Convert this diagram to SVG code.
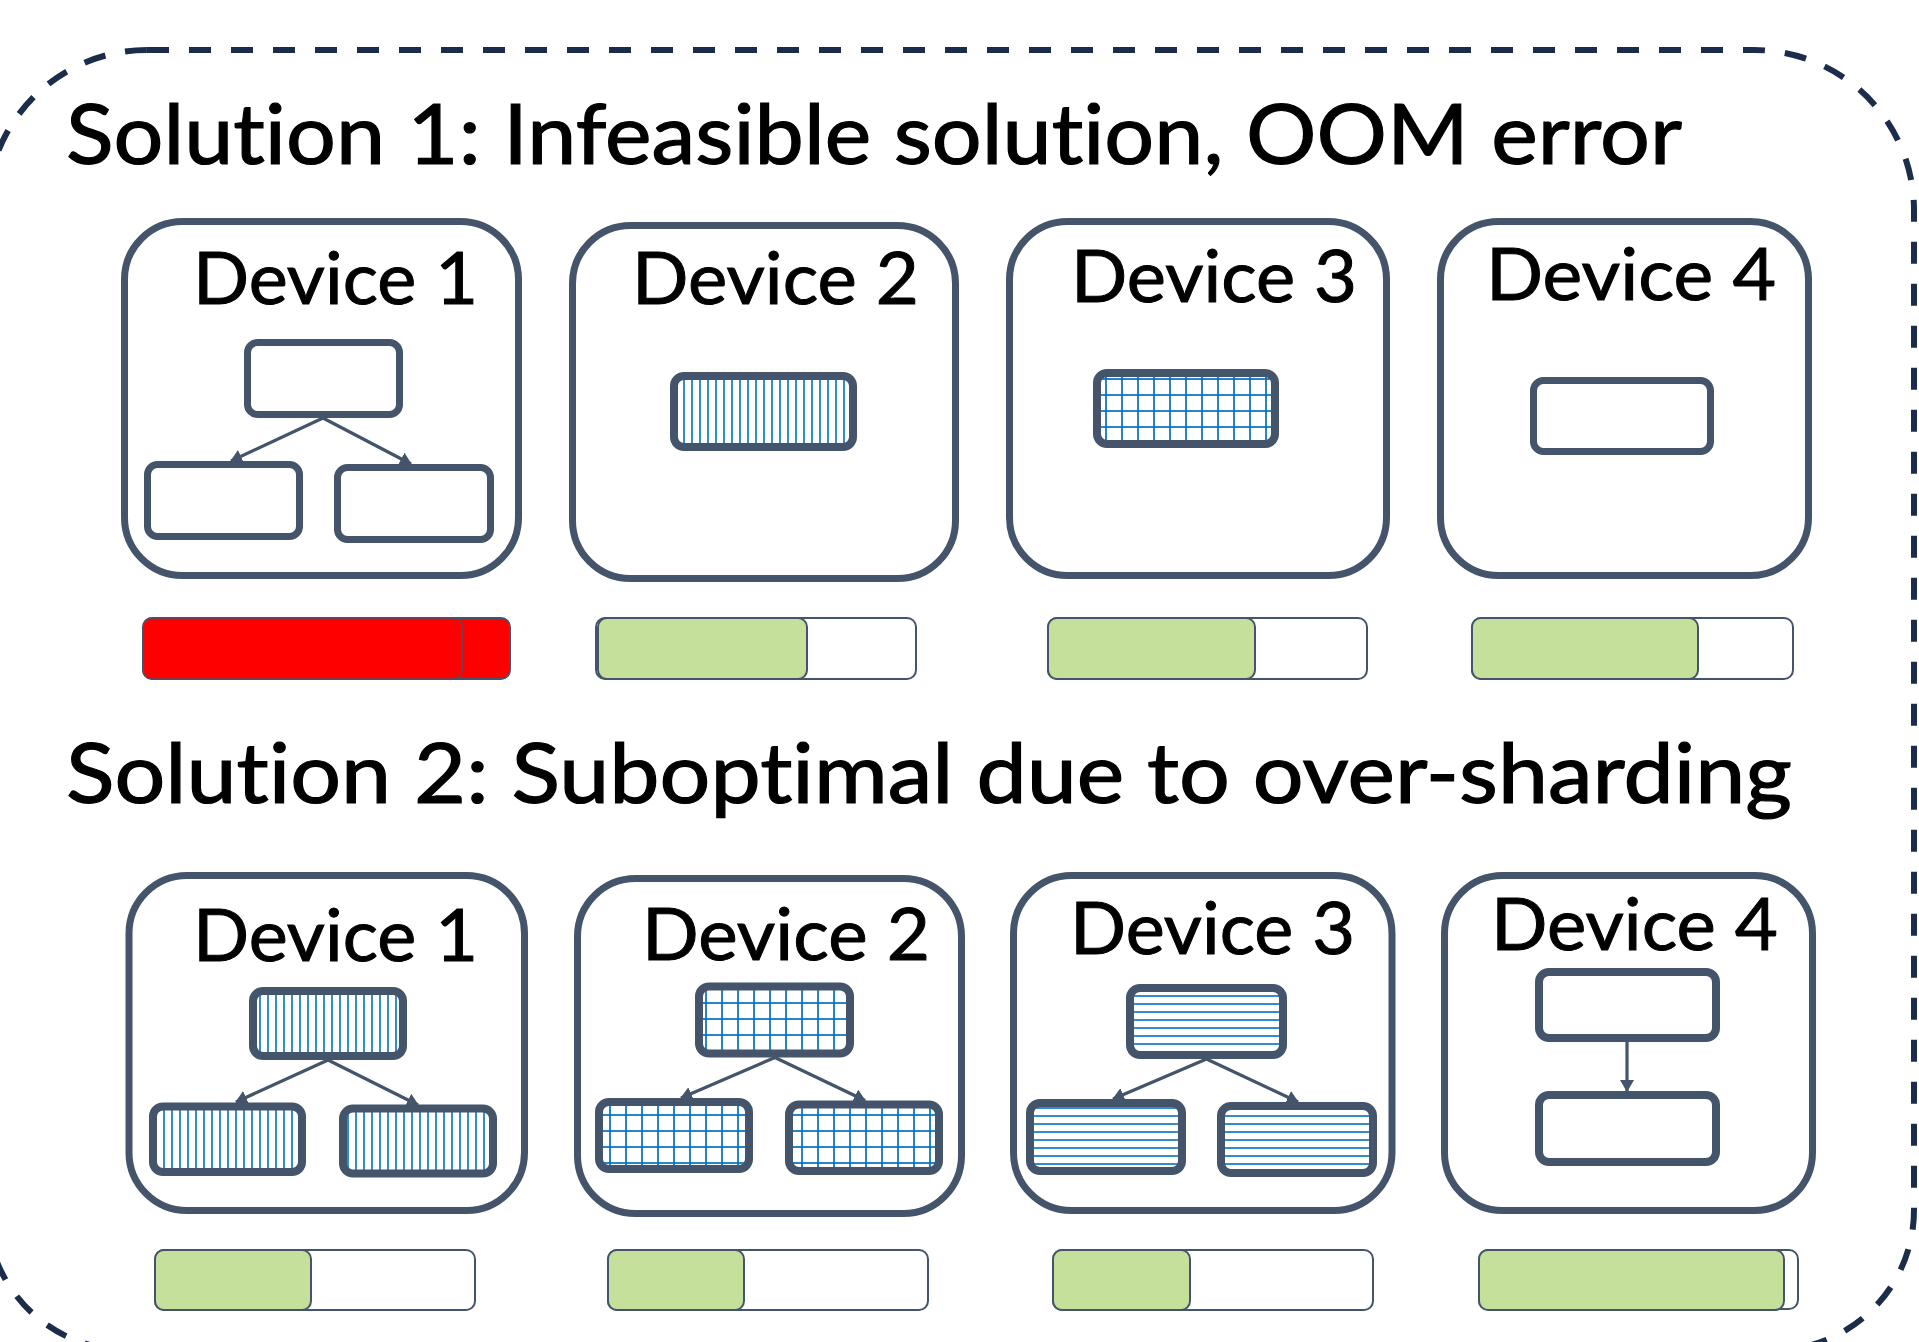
<svg xmlns="http://www.w3.org/2000/svg" width="1919" height="1342" viewBox="0 0 1919 1342">
<style>
.title{font-family:Lato,"Noto Sans","DejaVu Sans",sans-serif;font-size:84px;fill:#000;stroke:#000;stroke-width:1.2;font-variant-ligatures:none;font-feature-settings:"liga" 0,"clig" 0}
.lbl{font-family:Lato,"Noto Sans","DejaVu Sans",sans-serif;font-size:72.5px;fill:#000;stroke:#000;stroke-width:1;font-variant-ligatures:none;font-feature-settings:"liga" 0,"clig" 0}
.dev{fill:#fff;stroke:#44546A;stroke-width:7}
.box{fill:#fff;stroke:#44546A;stroke-width:7}
.box2{stroke:#44546A;stroke-width:8}
.bar{fill:#fff;stroke:#44546A;stroke-width:2}
.used{fill:#C5E09B;stroke:#44546A;stroke-width:2}
.conn{stroke:#44546A;stroke-width:3.2;fill:none;marker-end:url(#ah)}
</style>
<defs>
<marker id="ah" viewBox="0 0 12 14" refX="11" refY="7" markerWidth="12" markerHeight="14" markerUnits="userSpaceOnUse" orient="auto">
<path d="M0,0 L12,7 L0,14 Z" fill="#44546A"/>
</marker>
<pattern id="vstripe" patternUnits="userSpaceOnUse" width="8" height="8">
<rect width="8" height="8" fill="#fff"/>
<line x1="4" y1="0" x2="4" y2="8" stroke="#0070C0" stroke-width="1.6"/>
</pattern>
<pattern id="hstripe" patternUnits="userSpaceOnUse" width="8" height="8">
<rect width="8" height="8" fill="#fff"/>
<line x1="0" y1="4" x2="8" y2="4" stroke="#0070C0" stroke-width="1.6"/>
</pattern>
<pattern id="grid" patternUnits="userSpaceOnUse" width="16" height="16">
<rect width="16" height="16" fill="#fff"/>
<line x1="2" y1="0" x2="2" y2="16" stroke="#0070C0" stroke-width="1.7"/>
<line x1="0" y1="11" x2="16" y2="11" stroke="#0070C0" stroke-width="1.7"/>
</pattern>
</defs>
<rect width="1919" height="1342" fill="#fff"/>
<path id="frame" d="M147,50 H1754 A160,160 0 0 1 1914,210 V1210 A140,140 0 0 1 1774,1350 H127 A140,140 0 0 1 -13,1210 V210 A160,160 0 0 1 147,50 Z" fill="none" stroke="#1C2D4C" stroke-width="6" stroke-dasharray="22 20"/>

<text class="title" x="66" y="164" textLength="1616" lengthAdjust="spacingAndGlyphs">Solution 1: Infeasible solution, OOM error</text>
<text class="title" x="66" y="803" textLength="1726" lengthAdjust="spacingAndGlyphs">Solution 2: Suboptimal due to over-sharding</text>

<!-- Row 1 -->
<g id="s1-device1">
<rect class="dev" x="124.5" y="221.5" width="394" height="354" rx="58"/>
<text class="lbl" x="193" y="304" textLength="285" lengthAdjust="spacingAndGlyphs">Device 1</text>
<rect class="box" x="247.5" y="342.5" width="152" height="72" rx="10"/>
<rect class="box" x="147.5" y="464.5" width="152" height="72" rx="10"/>
<rect class="box" x="337.5" y="467.5" width="153" height="72" rx="10"/>
</g>
<g id="s1-device2">
<rect class="dev" x="572.5" y="225.5" width="383" height="353" rx="58"/>
<text class="lbl" x="632" y="304" textLength="287" lengthAdjust="spacingAndGlyphs">Device 2</text>
<rect class="box2" fill="url(#vstripe)" x="674" y="376" width="179" height="71" rx="10"/>
</g>
<g id="s1-device3">
<rect class="dev" x="1009.5" y="221.5" width="377" height="354" rx="58"/>
<text class="lbl" x="1071" y="302" textLength="286" lengthAdjust="spacingAndGlyphs">Device 3</text>
<rect class="box2" fill="url(#grid)" x="1097" y="373" width="178" height="71" rx="10"/>
</g>
<g id="s1-device4">
<rect class="dev" x="1440.5" y="221.5" width="368" height="354" rx="58"/>
<text class="lbl" x="1486" y="300" textLength="290" lengthAdjust="spacingAndGlyphs">Device 4</text>
<rect class="box" x="1533.5" y="380.5" width="177" height="71" rx="10"/>
</g>

<g id="s1-mem1">
<rect x="143" y="618" width="367" height="61" rx="9" fill="#FF0000" stroke="#44546A" stroke-width="2"/>
<rect x="143" y="618" width="319" height="61" rx="9" fill="#FF0000" stroke="#44546A" stroke-width="1.5" stroke-dasharray="3 1"/>
</g>
<g id="s1-mem2">
<rect class="bar" x="596" y="618" width="320" height="61" rx="9"/>
<rect class="used" x="598" y="618" width="209" height="61" rx="9"/>
</g>
<g id="s1-mem3">
<rect class="bar" x="1048" y="618" width="319" height="61" rx="9"/>
<rect class="used" x="1048" y="618" width="207" height="61" rx="9"/>
</g>
<g id="s1-mem4">
<rect class="bar" x="1472" y="618" width="321" height="61" rx="9"/>
<rect class="used" x="1472" y="618" width="226" height="61" rx="9"/>
</g>

<!-- Row 2 -->
<g id="s2-device1">
<rect class="dev" x="129" y="875.5" width="395.5" height="335" rx="58"/>
<text class="lbl" x="193" y="961" textLength="285" lengthAdjust="spacingAndGlyphs">Device 1</text>
<rect class="box2" fill="url(#vstripe)" x="253" y="991" width="150" height="65" rx="10"/>
<rect class="box2" fill="url(#vstripe)" x="153" y="1106.5" width="149" height="65.5" rx="10"/>
<rect class="box2" fill="url(#vstripe)" x="343" y="1108.6" width="150" height="65" rx="10"/>
</g>
<g id="s2-device2">
<rect class="dev" x="577.5" y="878.5" width="384" height="335" rx="58"/>
<text class="lbl" x="642" y="960" textLength="288" lengthAdjust="spacingAndGlyphs">Device 2</text>
<rect class="box2" fill="url(#grid)" x="699" y="986.5" width="151" height="67" rx="10"/>
<rect class="box2" fill="url(#grid)" x="599" y="1102" width="150" height="67" rx="10"/>
<rect class="box2" fill="url(#grid)" x="789" y="1104.5" width="150" height="66.5" rx="10"/>
</g>
<g id="s2-device3">
<rect class="dev" x="1013.5" y="875.5" width="378.5" height="335" rx="58"/>
<text class="lbl" x="1070" y="954" textLength="285" lengthAdjust="spacingAndGlyphs">Device 3</text>
<rect class="box2" fill="url(#hstripe)" x="1130" y="988" width="153" height="67" rx="10"/>
<rect class="box2" fill="url(#hstripe)" x="1030" y="1103" width="152" height="68" rx="10"/>
<rect class="box2" fill="url(#hstripe)" x="1221" y="1106" width="152" height="67" rx="10"/>
</g>
<g id="s2-device4">
<rect class="dev" x="1444.5" y="875.5" width="368" height="335" rx="58"/>
<text class="lbl" x="1491" y="950" textLength="287" lengthAdjust="spacingAndGlyphs">Device 4</text>
<rect class="box2" fill="#fff" x="1539" y="972" width="177" height="66" rx="10"/>
<rect class="box2" fill="#fff" x="1539" y="1095" width="177" height="67" rx="10"/>
</g>

<g id="s2-mem1">
<rect class="bar" x="155" y="1250" width="320" height="60" rx="9"/>
<rect class="used" x="155" y="1250" width="156" height="60" rx="9"/>
</g>
<g id="s2-mem2">
<rect class="bar" x="608" y="1250" width="320" height="60" rx="9"/>
<rect class="used" x="608" y="1250" width="136" height="60" rx="9"/>
</g>
<g id="s2-mem3">
<rect class="bar" x="1053" y="1250" width="320" height="60" rx="9"/>
<rect class="used" x="1053" y="1250" width="137" height="60" rx="9"/>
</g>
<g id="s2-mem4">
<rect class="bar" x="1479" y="1250" width="319" height="59" rx="9"/>
<rect class="used" x="1479" y="1250" width="305" height="60" rx="9" stroke-width="3"/>
</g>

<g id="connectors">
<line class="conn" x1="323" y1="418" x2="231" y2="461"/>
<line class="conn" x1="323" y1="418" x2="411" y2="464"/>
<line class="conn" x1="328" y1="1060" x2="236" y2="1102"/>
<line class="conn" x1="328" y1="1060" x2="418" y2="1105"/>
<line class="conn" x1="775" y1="1057.5" x2="681" y2="1098"/>
<line class="conn" x1="775" y1="1057.5" x2="865" y2="1100.5"/>
<line class="conn" x1="1206.5" y1="1059" x2="1113" y2="1099"/>
<line class="conn" x1="1206.5" y1="1059" x2="1298" y2="1102"/>
<line class="conn" x1="1627" y1="1042" x2="1627" y2="1091"/>
</g>
</svg>
